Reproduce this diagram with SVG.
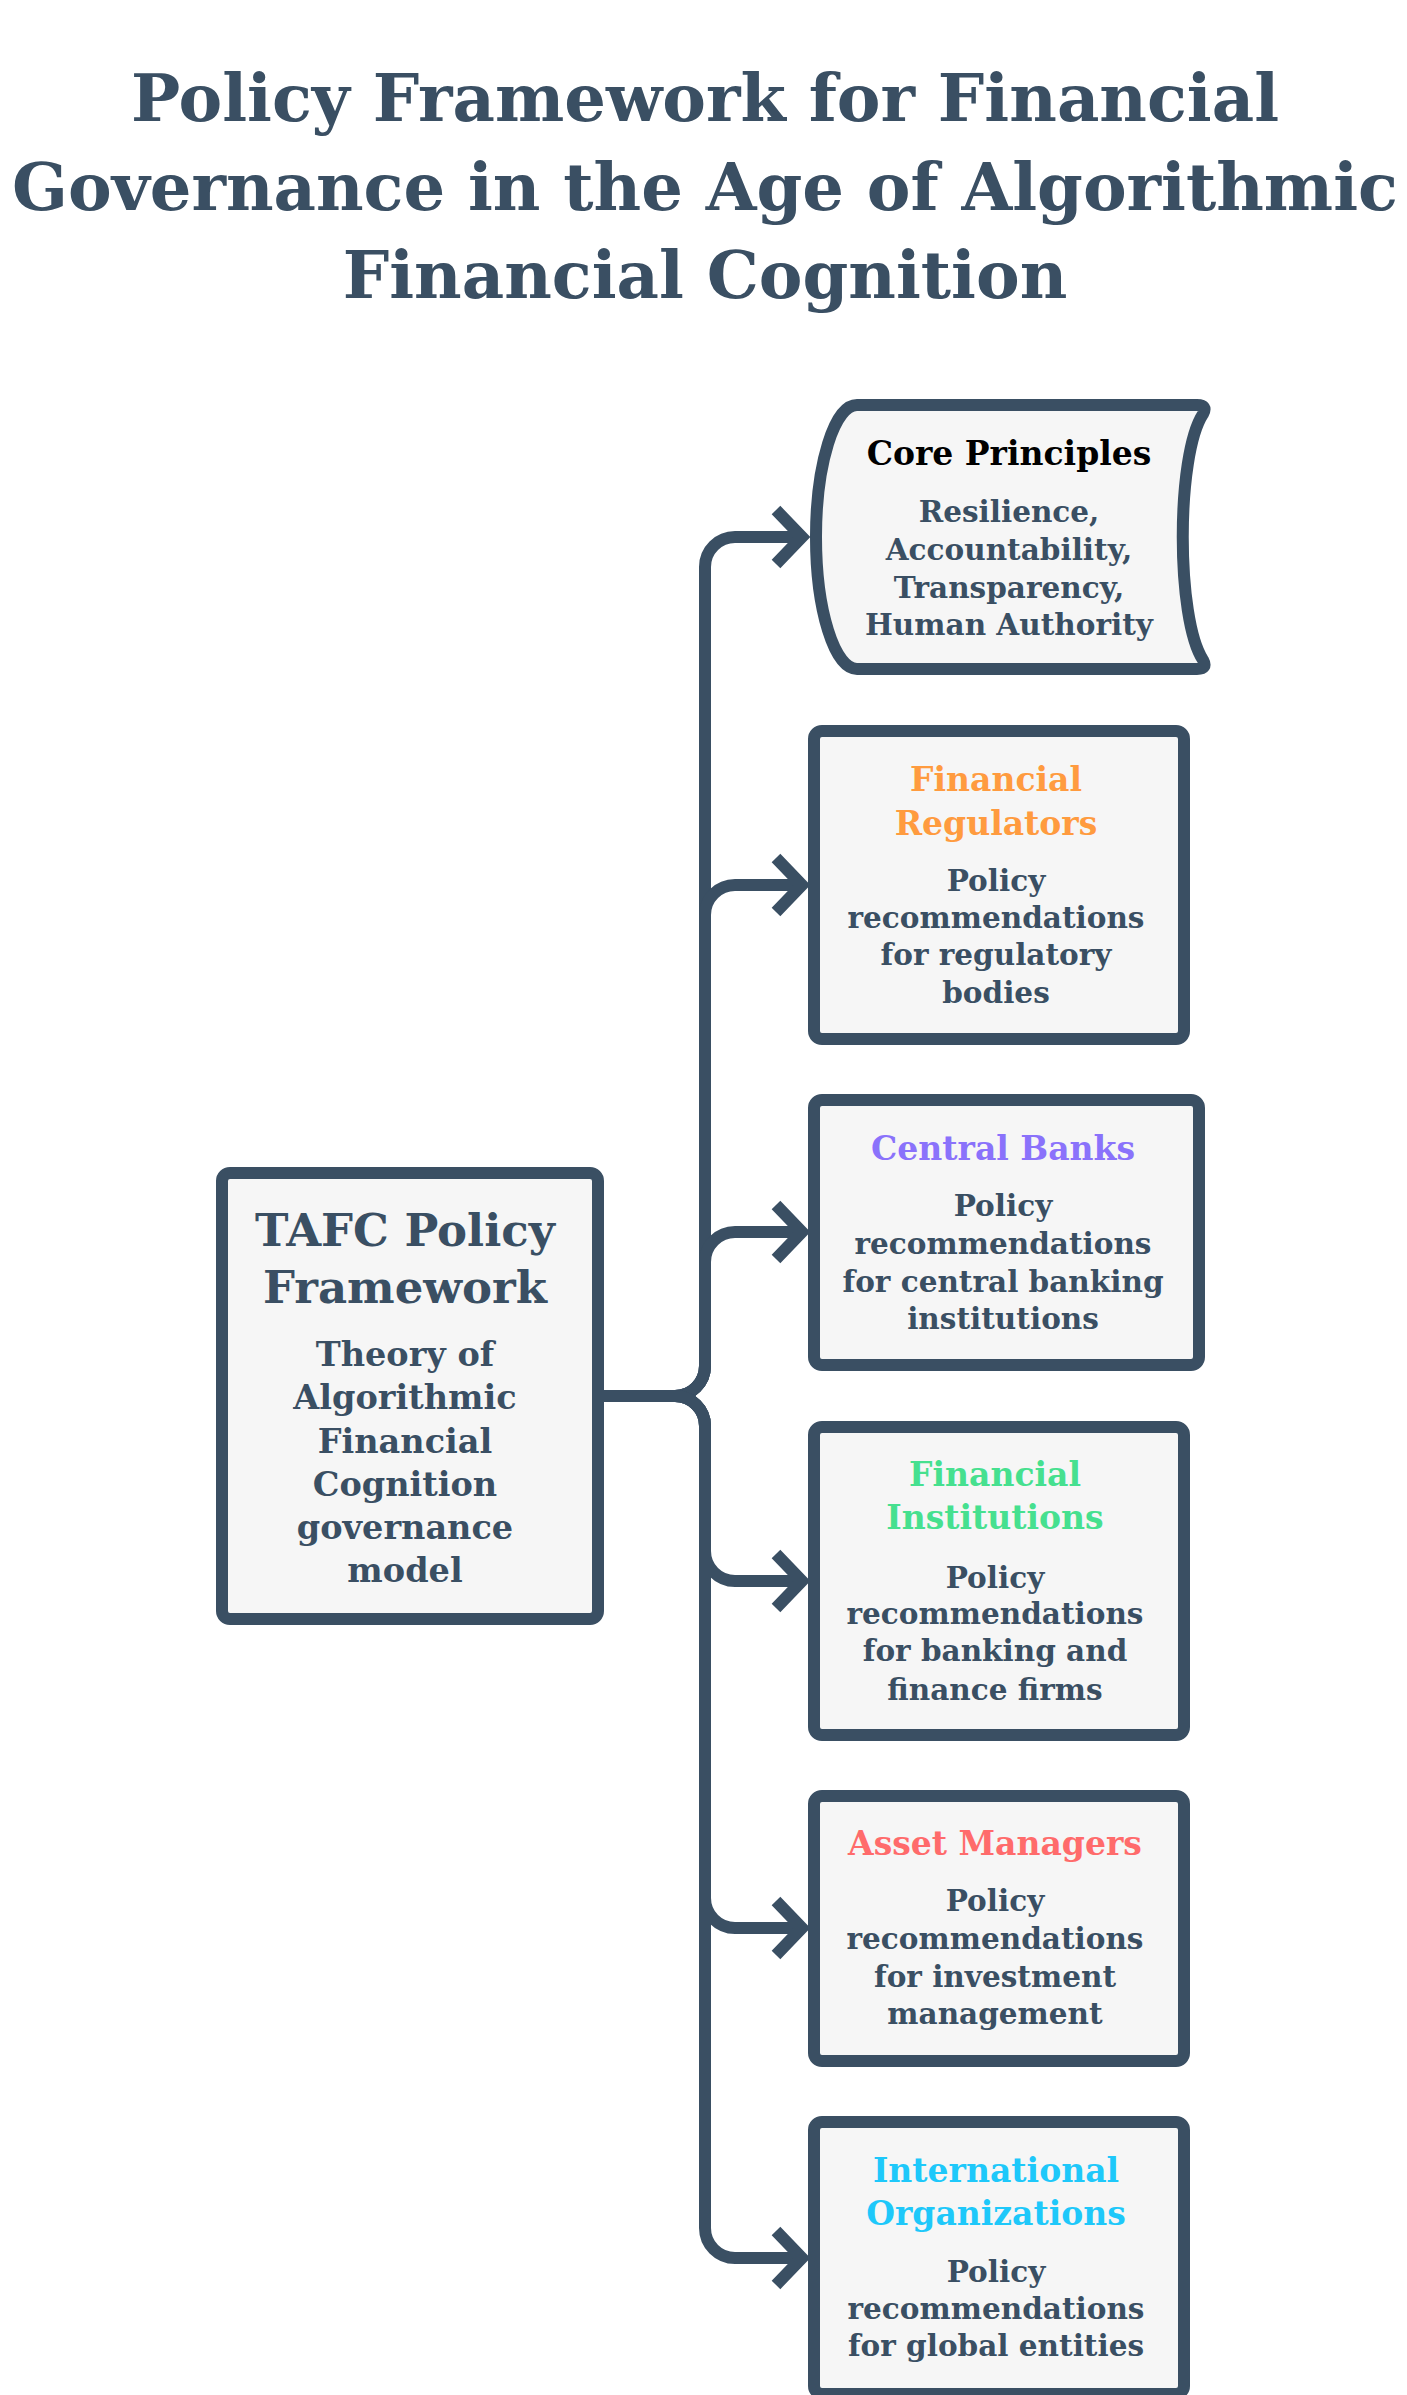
<svg xmlns="http://www.w3.org/2000/svg" width="1407" height="2395" viewBox="0 0 1407 2395">
<style>
.title{font-family:"DejaVu Serif","Liberation Serif",serif;font-weight:bold;font-size:65.5px;fill:#3a4f63;text-anchor:middle}
.box{fill:#f6f6f6;stroke:#3a4f63;stroke-width:12;stroke-linejoin:round}
.hd{font-family:"DejaVu Serif","Liberation Serif",serif;font-weight:bold;font-size:33px;text-anchor:middle}
.bd{font-family:"DejaVu Serif","Liberation Serif",serif;font-weight:bold;font-size:29.5px;fill:#3a4f63;text-anchor:middle}
.mhd{font-family:"DejaVu Serif","Liberation Serif",serif;font-weight:bold;font-size:45px;fill:#3a4f63;text-anchor:middle}
.mbd{font-family:"DejaVu Serif","Liberation Serif",serif;font-weight:bold;font-size:33.5px;fill:#3a4f63;text-anchor:middle}
.edge{fill:none;stroke:#3a4f63;stroke-width:12;marker-end:url(#arr)}
</style>
<defs>
<marker id="arr" markerUnits="userSpaceOnUse" orient="auto" refX="0" refY="0" markerWidth="60" markerHeight="80" viewBox="-40 -40 60 80" overflow="visible">
<path d="M-26,-27 L0,0 L-26,27" fill="none" stroke="#3a4f63" stroke-width="12"/>
</marker>
</defs>
<rect width="1407" height="2395" fill="#ffffff"/>
<g id="title">
<text class="title" x="705" y="121">Policy Framework for Financial</text>
<text class="title" x="705" y="210">Governance in the Age of Algorithmic</text>
<text class="title" x="705" y="298">Financial Cognition</text>
</g>
<g id="connectors">
<path class="edge" d="M604 1396 H675 A30 30 0 0 0 705 1366 V567 A30 30 0 0 1 735 537 H802"/>
<path class="edge" d="M604 1396 H675 A30 30 0 0 0 705 1366 V915 A30 30 0 0 1 735 885 H802"/>
<path class="edge" d="M604 1396 H675 A30 30 0 0 0 705 1366 V1262 A30 30 0 0 1 735 1232 H802"/>
<path class="edge" d="M604 1396 H675 A30 30 0 0 1 705 1426 V1551 A30 30 0 0 0 735 1581 H802"/>
<path class="edge" d="M604 1396 H675 A30 30 0 0 1 705 1426 V1898 A30 30 0 0 0 735 1928 H802"/>
<path class="edge" d="M604 1396 H675 A30 30 0 0 1 705 1426 V2228 A30 30 0 0 0 735 2258 H802"/>
</g>
<g id="main">
<rect class="box" x="222" y="1173" width="376" height="446" rx="8"/>
<text class="mhd" x="405" y="1246">TAFC Policy</text>
<text class="mhd" x="405" y="1303">Framework</text>
<text class="mbd" x="405" y="1366">Theory of</text>
<text class="mbd" x="405" y="1409">Algorithmic</text>
<text class="mbd" x="405" y="1453">Financial</text>
<text class="mbd" x="405" y="1496">Cognition</text>
<text class="mbd" x="405" y="1539">governance</text>
<text class="mbd" x="405" y="1582">model</text>
</g>
<g id="core">
<path class="box" d="M857 405 H1197 Q1208 405 1203 414 C1176 455 1176 619 1203 660 Q1208 669 1197 669 H857 A41 132 0 0 1 857 405 Z"/>
<text class="hd" x="1009" y="465" fill="#000000">Core Principles</text>
<text class="bd" x="1009" y="522">Resilience,</text>
<text class="bd" x="1009" y="560">Accountability,</text>
<text class="bd" x="1009" y="598">Transparency,</text>
<text class="bd" x="1009" y="635">Human Authority</text>
</g>
<g id="regulators">
<rect class="box" x="814" y="731" width="370" height="308" rx="8"/>
<text class="hd" x="996" y="791" fill="#ff9b3f">Financial</text>
<text class="hd" x="996" y="835" fill="#ff9b3f">Regulators</text>
<text class="bd" x="996" y="891">Policy</text>
<text class="bd" x="996" y="928">recommendations</text>
<text class="bd" x="996" y="965">for regulatory</text>
<text class="bd" x="996" y="1003">bodies</text>
</g>
<g id="central-banks">
<rect class="box" x="814" y="1100" width="385" height="265" rx="8"/>
<text class="hd" x="1003" y="1160" fill="#8a72fb">Central Banks</text>
<text class="bd" x="1003" y="1216">Policy</text>
<text class="bd" x="1003" y="1254">recommendations</text>
<text class="bd" x="1003" y="1292">for central banking</text>
<text class="bd" x="1003" y="1329">institutions</text>
</g>
<g id="financial-institutions">
<rect class="box" x="814" y="1427" width="370" height="308" rx="8"/>
<text class="hd" x="995" y="1486" fill="#46e08f">Financial</text>
<text class="hd" x="995" y="1529" fill="#46e08f">Institutions</text>
<text class="bd" x="995" y="1588">Policy</text>
<text class="bd" x="995" y="1624">recommendations</text>
<text class="bd" x="995" y="1661">for banking and</text>
<text class="bd" x="995" y="1700">finance firms</text>
</g>
<g id="asset-managers">
<rect class="box" x="814" y="1796" width="370" height="265" rx="8"/>
<text class="hd" x="995" y="1855" fill="#ff6b6b">Asset Managers</text>
<text class="bd" x="995" y="1911">Policy</text>
<text class="bd" x="995" y="1949">recommendations</text>
<text class="bd" x="995" y="1987">for investment</text>
<text class="bd" x="995" y="2024">management</text>
</g>
<g id="international-organizations">
<rect class="box" x="814" y="2122" width="370" height="272" rx="8"/>
<text class="hd" x="996" y="2182" fill="#1ec8fa">International</text>
<text class="hd" x="996" y="2225" fill="#1ec8fa">Organizations</text>
<text class="bd" x="996" y="2282">Policy</text>
<text class="bd" x="996" y="2319">recommendations</text>
<text class="bd" x="996" y="2356">for global entities</text>
</g>
</svg>
